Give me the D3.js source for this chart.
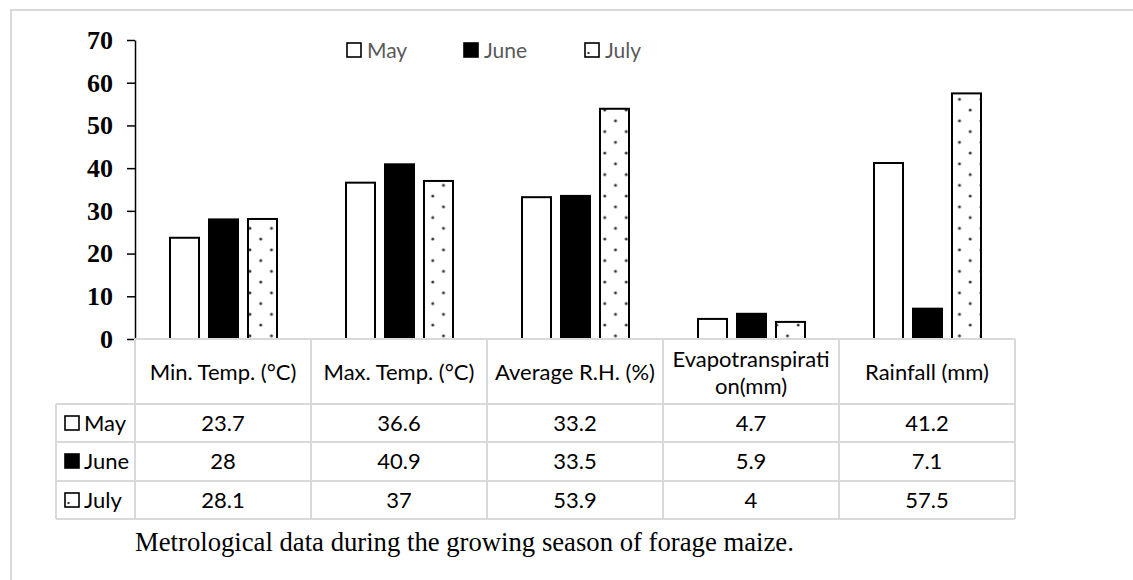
<!DOCTYPE html>
<html>
<head>
<meta charset="utf-8">
<script src="https://cdn.jsdelivr.net/npm/d3@7"></script>
<style>
  html, body { margin: 0; padding: 0; background: #fff; }
  svg { display: block; }
</style>
</head>
<body>
<div id="chart"></div>
<script>
// ---- data ----
const categories = ["Min. Temp. (°C)", "Max. Temp. (°C)", "Average R.H. (%)", "Evapotranspiration(mm)", "Rainfall (mm)"];
const headerLines = [["Min. Temp. (°C)"], ["Max. Temp. (°C)"], ["Average R.H. (%)"], ["Evapotranspirati", "on(mm)"], ["Rainfall (mm)"]];
const months = ["May", "June", "July"];
const mayValues = [23.7, 36.6, 33.2, 4.7, 41.2];
const juneValues = [28, 40.9, 33.5, 5.9, 7.1];
const julyValues = [28.1, 37, 53.9, 4, 57.5];
const yTicks = [0, 10, 20, 30, 40, 50, 60, 70];
const caption = "Metrological data during the growing season of forage maize.";

const seriesValues = { May: mayValues, June: juneValues, July: julyValues };

// ---- layout ----
const W = 1133, H = 580;
const plotLeft = 135, plotRight = 1015, plotTop = 40, plotBottom = 339;
const headerBottom = 404;
const rowBottoms = [442, 481, 519];
const keyColLeft = 56;
const gridColor = "#d9d9d9";
const sansFont = "Lato, 'Open Sans', sans-serif";
const serifFont = "'Liberation Serif', 'Times New Roman', serif";

const svg = d3.select("#chart").append("svg")
  .attr("width", W).attr("height", H);

svg.append("rect").attr("width", W).attr("height", H).attr("fill", "#fff");

// outer frame
svg.append("rect")
  .attr("x", 11).attr("y", 10).attr("width", W + 50).attr("height", H + 50)
  .attr("fill", "none").attr("stroke", gridColor).attr("stroke-width", 2);

// pattern for July
const defs = svg.append("defs");
const P = 21.5;
const pat = defs.append("pattern")
  .attr("id", "dots").attr("patternUnits", "userSpaceOnUse")
  .attr("x", 13.5).attr("y", 13.3).attr("width", P).attr("height", P);
pat.append("rect").attr("width", P).attr("height", P).attr("fill", "#fff");
[[0, 0], [P, 0], [0, P], [P, P], [P / 2, P / 2]].forEach(([cx, cy]) => {
  pat.append("circle").attr("cx", cx).attr("cy", cy).attr("r", 1.5).attr("fill", "#333");
});

const fills = { May: "#fff", June: "#000", July: "url(#dots)" };

// scales
const x = d3.scaleBand().domain(categories).range([plotLeft, plotRight]).paddingInner(0).paddingOuter(0);
const xSub = d3.scaleBand().domain(months).range([35, 142]).paddingInner(0.256).paddingOuter(0);
const y = d3.scaleLinear().domain([0, 70]).range([plotBottom, plotTop]);

// bars
const barData = [];
categories.forEach((c, i) => {
  months.forEach(m => barData.push({ cat: c, month: m, value: seriesValues[m][i] }));
});
svg.append("g").selectAll("rect").data(barData).join("rect")
  .attr("x", d => x(d.cat) + xSub(d.month))
  .attr("y", d => y(d.value))
  .attr("width", xSub.bandwidth())
  .attr("height", d => y(0) - y(d.value))
  .attr("fill", d => fills[d.month])
  .attr("stroke", "#000")
  .attr("stroke-width", 2);

// y axis
const yAxis = svg.append("g")
  .attr("transform", `translate(${plotLeft},0)`)
  .call(d3.axisLeft(y).tickValues(yTicks).tickSize(8).tickSizeOuter(0).tickPadding(14).tickFormat(d3.format("d")));
yAxis.select(".domain").attr("stroke", "#000").attr("stroke-width", 1.5);
yAxis.selectAll(".tick line").attr("stroke", "#000").attr("stroke-width", 1.5);
yAxis.selectAll(".tick text")
  .attr("fill", "#000")
  .style("font-family", serifFont)
  .style("font-weight", "bold")
  .style("font-size", "26px");

// legend (top)
function drawKey(g, month, size) {
  g.append("rect").attr("x", 0).attr("y", 0).attr("width", size).attr("height", size)
    .attr("fill", month === "June" ? "#000" : "#fff")
    .attr("stroke", "#000").attr("stroke-width", 1.6);
  if (month === "July") {
    g.append("rect").attr("x", 2.5).attr("y", size - 5).attr("width", 2).attr("height", 2).attr("fill", "#333");
  }
}
const legendX = [347, 464, 585];
const legend = svg.append("g");
months.forEach((m, i) => {
  const g = legend.append("g").attr("transform", `translate(${legendX[i]},43)`);
  drawKey(g, m, 14);
  g.append("text").attr("x", 20).attr("y", 15)
    .attr("fill", "#595959")
    .style("font-family", sansFont).style("font-size", "21px")
    .text(m);
});

// table grid
const grid = svg.append("g").attr("stroke", gridColor).attr("stroke-width", 2).attr("fill", "none");
grid.append("line").attr("x1", plotLeft).attr("x2", plotRight).attr("y1", plotBottom).attr("y2", plotBottom);
[headerBottom, ...rowBottoms].forEach(yy => {
  grid.append("line").attr("x1", keyColLeft).attr("x2", plotRight).attr("y1", yy).attr("y2", yy);
});
grid.append("line").attr("x1", keyColLeft).attr("x2", keyColLeft).attr("y1", headerBottom).attr("y2", rowBottoms[2]);
const colEdges = categories.map(c => x(c)).concat([plotRight]);
colEdges.forEach(xx => {
  grid.append("line").attr("x1", xx).attr("x2", xx).attr("y1", plotBottom).attr("y2", rowBottoms[2]);
});

// header text
const header = svg.append("g")
  .style("font-family", sansFont).style("font-size", "22px").attr("fill", "#000")
  .attr("text-anchor", "middle");
categories.forEach((c, i) => {
  const lines = headerLines[i];
  const cx = x(c) + x.bandwidth() / 2;
  const baseY = lines.length === 1 ? 380 : 367;
  lines.forEach((ln, j) => {
    header.append("text").attr("x", cx).attr("y", baseY + j * 27).text(ln);
  });
});

// data rows
const rowTops = [headerBottom, rowBottoms[0], rowBottoms[1]];
const body = svg.append("g")
  .style("font-family", sansFont).style("font-size", "22px").attr("fill", "#000");
months.forEach((m, r) => {
  const base = rowTops[r] + 27;
  const kg = body.append("g").attr("transform", `translate(65,${rowTops[r] + 12})`);
  drawKey(kg, m, 14);
  body.append("text").attr("x", 84).attr("y", base).text(m);
  categories.forEach((c, i) => {
    body.append("text").attr("x", x(c) + x.bandwidth() / 2).attr("y", base)
      .attr("text-anchor", "middle").text(String(seriesValues[m][i]));
  });
});

// caption
svg.append("text").attr("x", 135).attr("y", 551)
  .attr("fill", "#000")
  .style("font-family", serifFont).style("font-size", "26.7px")
  .text(caption);
</script>
</body>
</html>
